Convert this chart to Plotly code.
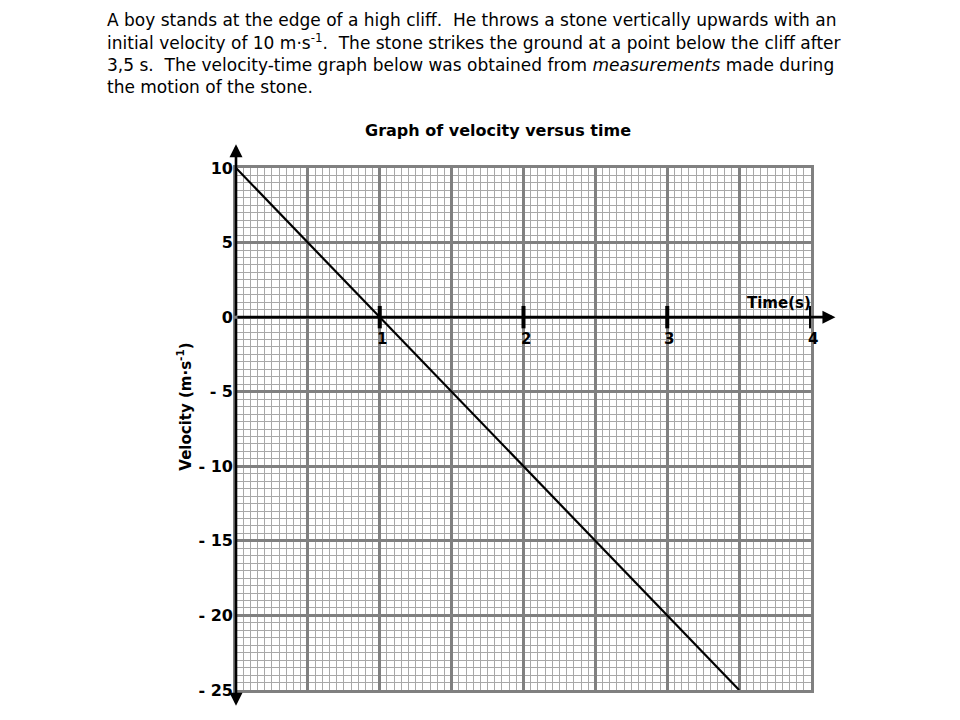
"""Velocity-time graph of a stone thrown upwards from a cliff."""

import plotly.graph_objects as go

# text above the chart
intro_lines = [
    "A boy stands at the edge of a high cliff.  He throws a stone vertically upwards with an",
    "initial velocity of 10 m·s<sup>-1</sup>.  The stone strikes the ground at a point below the cliff after",
    "3,5 s.  The velocity-time graph below was obtained from <i>measurements</i> made during",
    "the motion of the stone.",
]

# data
time_s = [0, 1, 2, 3, 3.5]
velocity = [10, 0, -10, -20, -25]

# axis ticks
y_tickvals = [10, 5, 0, -5, -10, -15, -20, -25]
y_ticktext = ["10", "5", "0", "- 5", "- 10", "- 15", "- 20", "- 25"]
x_tickvals = [1, 2, 3, 4]
x_ticktext = ["1", "2", "3", "4"]

X_RANGE = [0, 4]
Y_RANGE = [-25, 10]

MINOR = "#a8a8a8"
MAJOR = "#808080"
FONT = "DejaVu Sans, Arial, sans-serif"
PAGE_PAD = 8  # the page body adds 8px around the figure

fig = go.Figure()

fig.add_trace(go.Scatter(
    x=time_s,
    y=velocity,
    mode="lines",
    line=dict(color="black", width=2.2),
    hoverinfo="skip",
    showlegend=False,
))

# thick tick marks on the time axis
fig.add_trace(go.Scatter(
    x=x_tickvals,
    y=[0] * len(x_tickvals),
    mode="markers",
    marker=dict(symbol="line-ns", size=16, line=dict(color="black", width=4)),
    cliponaxis=False,
    hoverinfo="skip",
    showlegend=False,
))

annotations = []

for i, line in enumerate(intro_lines):
    annotations.append(dict(
        text=line, xref="paper", yref="paper",
        x=(105 - 236) / 575, y=1 + (168 - 20 - 22.3 * i) / 522,
        xanchor="left", yanchor="middle", showarrow=False,
        font=dict(family=FONT, size=17, color="black"),
    ))

# time tick labels sit just under the zero line
for tv, tt in zip(x_tickvals, x_ticktext):
    annotations.append(dict(
        text=tt, x=tv, y=0, xref="x", yref="y",
        xanchor="center", yanchor="top", xshift=2, yshift=-11,
        showarrow=False,
        font=dict(family=FONT, size=15, color="black", weight="bold"),
    ))

annotations.append(dict(
    text="Time(s)", x=4, y=0, xref="x", yref="y",
    xanchor="right", yanchor="bottom", xshift=2, yshift=3, showarrow=False,
    font=dict(family=FONT, size=15, color="black", weight="bold"),
))

annotations.append(dict(
    text="Velocity (m·s<sup>-1</sup>)", xref="paper", yref="y",
    x=(184 - 236) / 575, y=-6.0, textangle=-90,
    xanchor="center", yanchor="middle", showarrow=False,
    font=dict(family=FONT, size=15, color="black", weight="bold"),
))

# axes drawn as arrows from the origin
axis_arrows = [(0, 11.6), (0, -26.05), (4.17, 0)]
for hx, hy in axis_arrows:
    annotations.append(dict(
        text="", x=hx, y=hy, ax=0, ay=0,
        xref="x", yref="y", axref="x", ayref="y",
        showarrow=True, arrowhead=2, arrowsize=1.0,
        arrowwidth=2.6, arrowcolor="black", standoff=0,
    ))

fig.update_layout(
    width=960,
    height=720,
    paper_bgcolor="white",
    plot_bgcolor="white",
    margin=dict(l=236 - PAGE_PAD, r=149 + PAGE_PAD, t=168 - PAGE_PAD, b=30 + PAGE_PAD),
    title=dict(
        text="<b>Graph of velocity versus time</b>",
        x=(498 - PAGE_PAD) / 960, xanchor="center",
        y=1 - (130 - PAGE_PAD) / 720, yanchor="middle",
        font=dict(family=FONT, size=16, color="black"),
    ),
    xaxis=dict(
        range=X_RANGE,
        dtick=0.5,
        showticklabels=False,
        ticks="",
        showgrid=True,
        gridcolor=MAJOR,
        gridwidth=2.6,
        zeroline=False,
        showline=True,
        linecolor=MAJOR,
        linewidth=2.6,
        mirror=True,
        minor=dict(dtick=0.05, showgrid=True, gridcolor=MINOR, gridwidth=1.4),
        fixedrange=True,
    ),
    yaxis=dict(
        range=Y_RANGE,
        tickvals=y_tickvals,
        ticktext=y_ticktext,
        ticks="",
        ticklabelstandoff=-3,
        tickfont=dict(family=FONT, size=16, color="black", weight="bold"),
        showgrid=True,
        gridcolor=MAJOR,
        gridwidth=2.6,
        zeroline=False,
        showline=True,
        linecolor=MAJOR,
        linewidth=2.6,
        mirror=True,
        minor=dict(dtick=0.5, showgrid=True, gridcolor=MINOR, gridwidth=1.4),
        fixedrange=True,
    ),
    annotations=annotations,
    showlegend=False,
)

fig.write_html("out.html")
